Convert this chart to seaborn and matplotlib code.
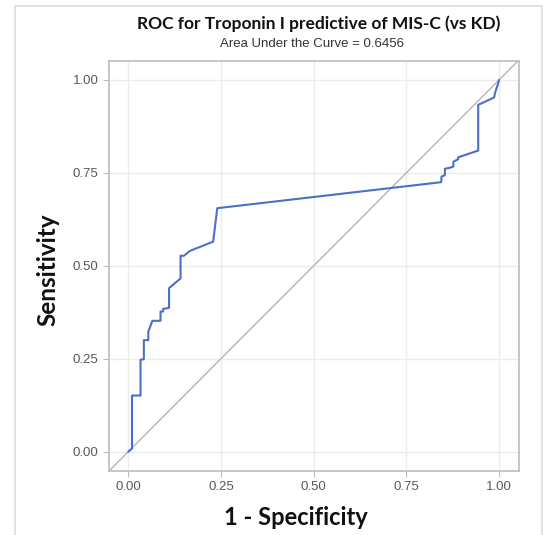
import numpy as np
import pandas as pd
import matplotlib
matplotlib.use("Agg")
import matplotlib.pyplot as plt
import seaborn as sns
from matplotlib.patches import Rectangle

# ROC points (1 - specificity, sensitivity)
fpr = [0.0, 0.01, 0.01, 0.033, 0.033, 0.042, 0.042, 0.054, 0.054, 0.065,
       0.087, 0.087, 0.094, 0.094, 0.11, 0.11, 0.141, 0.141, 0.150, 0.166,
       0.229, 0.240, 0.844, 0.845, 0.854, 0.854, 0.868, 0.877, 0.877, 0.89,
       0.89, 0.944, 0.944, 0.987, 0.989, 1.0, 1.0]
tpr = [0.0, 0.008, 0.151, 0.151, 0.247, 0.249, 0.30, 0.30, 0.323, 0.352,
       0.352, 0.377, 0.377, 0.384, 0.387, 0.44, 0.466, 0.527, 0.527, 0.54,
       0.565, 0.655, 0.725, 0.74, 0.744, 0.761, 0.764, 0.767, 0.78, 0.787,
       0.792, 0.81, 0.933, 0.953, 0.964, 0.998, 1.0]
ref_line = [-0.06, 1.06]
ticks = [0.0, 0.25, 0.5, 0.75, 1.0]
auc = 0.6456

df = pd.DataFrame({"fpr": fpr, "tpr": tpr})

sns.set_theme(style="whitegrid")
plt.rcParams["font.family"] = ["Liberation Sans", "DejaVu Sans"]

fig = plt.figure(figsize=(5.43, 5.35), dpi=100)
ax = fig.add_axes([109 / 543, 1 - 471 / 535, 410 / 543, 410 / 535])

# light outer box like the screenshot
fig.patches.append(Rectangle((15 / 543, -0.02), 527 / 543, 1.02 - 6 / 535,
                             transform=fig.transFigure, fill=False,
                             edgecolor="#dcdcdc", linewidth=1.2))

ax.plot(ref_line, ref_line, color="#b4b4b4", linewidth=1.0, zorder=2)
sns.lineplot(data=df, x="fpr", y="tpr", sort=False, estimator=None,
             color="#4a70c8", linewidth=1.5, ax=ax, zorder=3)

ax.set_xlim(-0.052, 1.054)
ax.set_ylim(-0.052, 1.051)
ax.set_xticks(ticks)
ax.set_yticks(ticks)
ax.set_xticklabels([f"{t:.2f}" for t in ticks])
ax.set_yticklabels([f"{t:.2f}" for t in ticks])
ax.grid(True, color="#ececec", linewidth=1.0)
for s in ax.spines.values():
    s.set_color("#b9bec2")
    s.set_linewidth(1.2)
ax.tick_params(axis="both", which="both", length=4.5, width=0.8, color="#b9bec2",
               labelsize=9.5, labelcolor="#595959", pad=3,
               bottom=True, left=True)

ax.set_xlabel("1 - Specificity", family=["Lato", "DejaVu Sans"],
              fontweight="bold", fontsize=17, color="#111111")
ax.set_ylabel("Sensitivity", family=["Lato", "DejaVu Sans"],
              fontweight="bold", fontsize=17.5, color="#111111")
ax.xaxis.set_label_coords(0.456, -0.085)
ax.yaxis.set_label_coords(-0.122, 0.49)

fig.text(319 / 543, 1 - 24 / 535, "ROC for Troponin I predictive of MIS-C (vs KD)",
         family=["Lato", "DejaVu Sans"], fontweight="bold", fontsize=12.5,
         ha="center", va="center", color="#111111")
fig.text(312 / 543, 1 - 44 / 535, f"Area Under the Curve = {auc}",
         fontsize=9.5, ha="center", va="center", color="#333333")

fig.savefig("out.png", dpi=100)
